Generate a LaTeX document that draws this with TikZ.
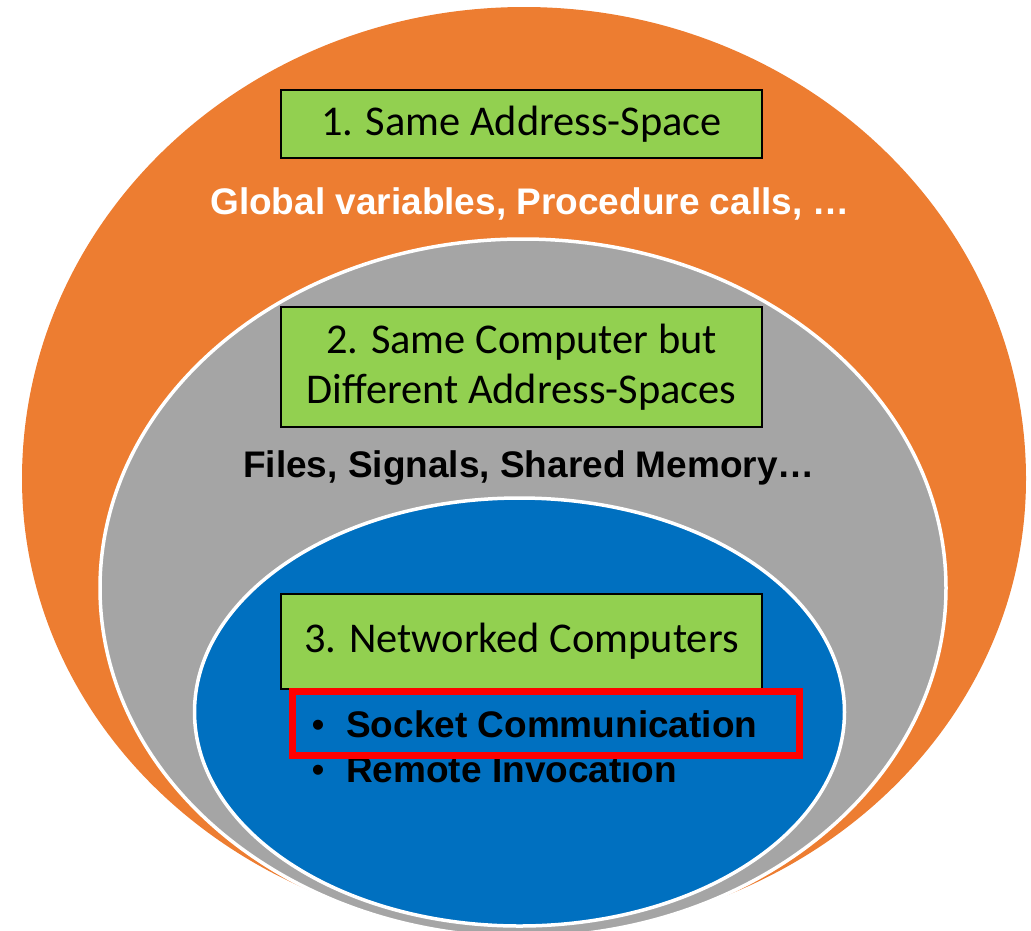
\documentclass[tikz,border=0pt]{standalone}
\usepackage{fontspec}
\setmainfont{Carlito}
\newfontfamily\arialfont{Liberation Sans}
\definecolor{ringorange}{HTML}{ED7D31}
\definecolor{ringgrey}{HTML}{A5A5A5}
\definecolor{ringblue}{HTML}{0070C0}
\definecolor{boxgreen}{HTML}{92D050}
\definecolor{hlred}{HTML}{FF0000}
\begin{document}
\begin{tikzpicture}[x=1pt,y=-1pt,
  ring/.style={draw=white, line width=3.5pt},
  greenbox/.style={draw=black, line width=2.2pt, fill=boxgreen, minimum width=481pt,
    inner sep=0pt, align=center, font=\fontsize{42.4}{50}\selectfont},
  boldlabel/.style={inner sep=0pt, font=\arialfont\bfseries\fontsize{37}{44}\selectfont},
  bulletlabel/.style={inner sep=0pt, font=\arialfont\fontsize{37}{44}\selectfont},
  hlbox/.style={draw=hlred, line width=7pt, inner sep=0pt}]
\useasboundingbox (0,0) rectangle (1031,930);
% outer ring: egg shape, slightly narrower below
\fill[ringorange] (22,479) arc[start angle=180, end angle=0, x radius=502pt, y radius=472pt]
  arc[start angle=0, end angle=-180, x radius=502pt, y radius=455pt] -- cycle;
\filldraw[ring, fill=ringgrey] (523,588) ellipse [x radius=423pt, y radius=349pt];
\filldraw[ring, fill=ringblue] (519.5,712) ellipse [x radius=325pt, y radius=214pt];
% boxes
\node[greenbox, minimum height=68pt] (box1) at (521.5,124) {1. Same Address-Space};
\node[greenbox, minimum height=120pt] (box2) at (521.5,367) {2. Same Computer but\\Different Address-Spaces};
\node[greenbox, minimum height=95pt] (box3) at (521.5,641.5) {3. Networked Computers};
% labels
\node[boldlabel, text=white, anchor=base] (lab1) at (530,214) {Global variables, Procedure calls, \ldots};
\node[boldlabel, text=black, anchor=base] (lab2) at (529,477) {Files, Signals, Shared Memory\ldots};
\node[bulletlabel, anchor=base] (b1) at (318,737) {•};
\node[boldlabel, anchor=base west] (t1) at (346,737) {Socket Communication};
\node[bulletlabel, anchor=base] (b2) at (318,782) {•};
\node[boldlabel, anchor=base west] (t2) at (346,782) {Remote Invocation};
% highlight
\node[hlbox, minimum width=507pt, minimum height=64pt] (hl) at (546,723.5) {};
\end{tikzpicture}
\end{document}
